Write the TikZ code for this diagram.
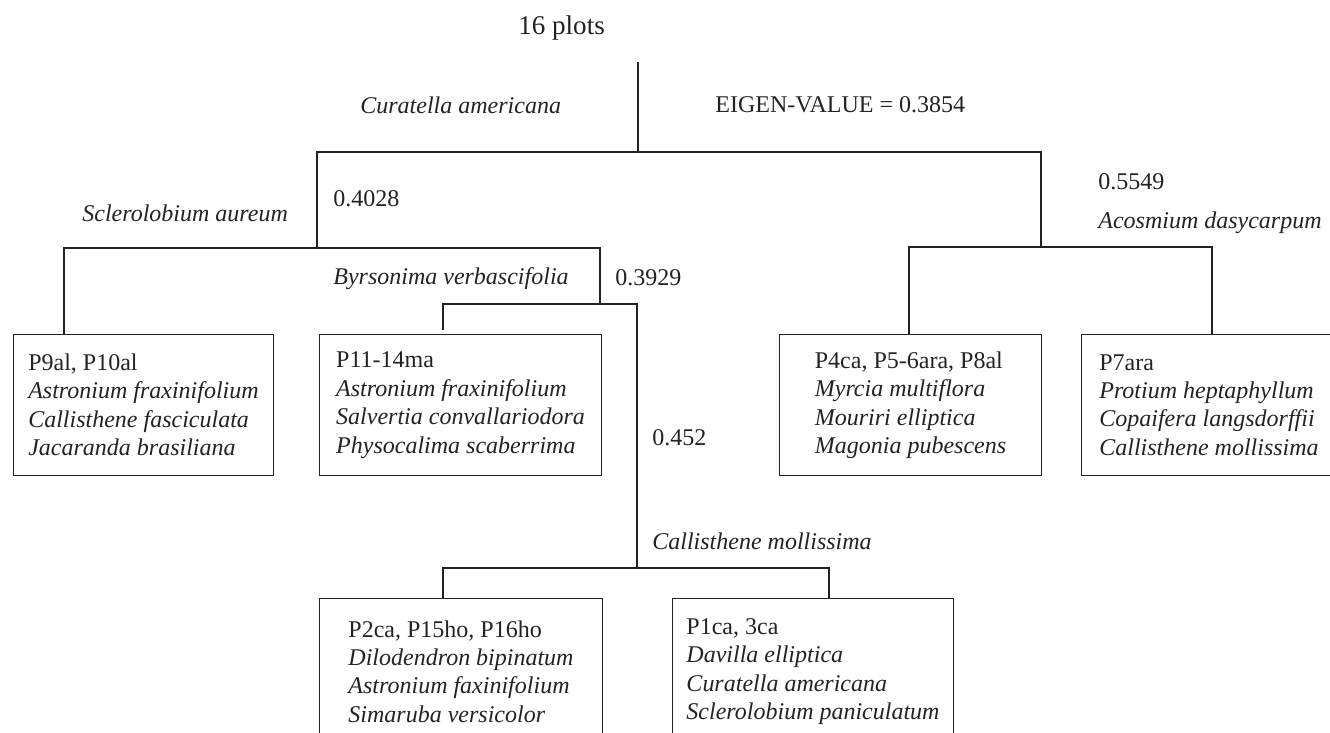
\documentclass[tikz,border=0pt]{standalone}
\usepackage{fontspec}
\setmainfont{Liberation Serif}
\definecolor{ink}{RGB}{35,35,35}
\newlength{\px}
\setlength{\px}{0.02cm}
\newcommand{\labfont}{\fontsize{13.66}{16.2}\selectfont}
\newcommand{\titlefont}{\fontsize{15.4}{18}\selectfont}
\tikzset{
  branch/.style={draw=ink, line width=0.6pt},
  plotbox/.style={draw=ink, line width=0.6pt, anchor=north west, align=left,
                  inner sep=0pt, font=\labfont, text=ink},
  lab/.style={anchor=base west, inner sep=0pt, font=\labfont, text=ink},
}

\begin{document}
\begin{tikzpicture}[x=0.02cm, y=-0.02cm]
  \useasboundingbox (0,0) rectangle (1330,733);

  % Title and first split
  \node[lab, font=\titlefont] (title) at (518,35) {16 plots};
  \node[lab] (curat) at (360,114) {\textit{Curatella americana}};
  \node[lab] (eigen) at (715,113) {EIGEN-VALUE = 0.3854};

  % Split values and indicator species
  \node[lab] (v4028) at (333,207) {0.4028};
  \node[lab] (scler) at (82,222) {\textit{Sclerolobium aureum}};
  \node[lab] (v5549) at (1098,190) {0.5549};
  \node[lab] (acos) at (1098,229) {\textit{Acosmium dasycarpum}};
  \node[lab] (byrs) at (333,285) {\textit{Byrsonima verbascifolia}};
  \node[lab] (v3929) at (615,286) {0.3929};
  \node[lab] (v452) at (652,446) {0.452};
  \node[lab] (callm) at (652,549) {\textit{Callisthene mollissima}};

  % Plot groups
  \node[plotbox, minimum width=260\px, minimum height=141\px] (b9) at (13,334)
    {P9al, P10al\\ \textit{Astronium fraxinifolium}\\
     \textit{Callisthene fasciculata}\\ \textit{Jacaranda brasiliana}};
  \node[plotbox, minimum width=282\px, minimum height=141\px] (b11) at (319,334)
    {P11-14ma\\ \textit{Astronium fraxinifolium}\\
     \textit{Salvertia convallariodora}\\ \textit{Physocalima scaberrima}};
  \node[plotbox, minimum width=262\px, minimum height=141\px] (b4) at (779,334)
    {P4ca, P5-6ara, P8al\\ \textit{Myrcia multiflora}\\
     \textit{Mouriri elliptica}\\ \textit{Magonia pubescens}};
  \node[plotbox, minimum width=255\px, minimum height=141\px] (b7) at (1081,334)
    {P7ara\\ \textit{Protium heptaphyllum}\\
     \textit{Copaifera langsdorffii}\\ \textit{Callisthene mollissima}};
  \node[plotbox, minimum width=283\px, minimum height=146\px] (b2) at (319,598)
    {P2ca, P15ho, P16ho\\ \textit{Dilodendron bipinatum}\\
     \textit{Astronium faxinifolium}\\ \textit{Simaruba versicolor}};
  \node[plotbox, minimum width=281\px, minimum height=146\px] (b1) at (672,598)
    {P1ca, 3ca\\ \textit{Davilla elliptica}\\
     \textit{Curatella americana}\\ \textit{Sclerolobium paniculatum}};

  % Junctions
  \coordinate (top) at (638,62);
  \coordinate (s1) at (638,152);
  \coordinate (s2) at (317,248);
  \coordinate (s2l) at (64,248);
  \coordinate (s2r) at (600,248);
  \coordinate (s3) at (600,304);
  \coordinate (s3l) at (443,304);
  \coordinate (s3r) at (637,304);
  \coordinate (s4) at (637,568);
  \coordinate (s4l) at (443,568);
  \coordinate (s4r) at (829,568);
  \coordinate (s5) at (1041,247);
  \coordinate (s5l) at (909,247);
  \coordinate (s5r) at (1212,247);

  % Tree
  \draw[branch] (top) -- (s1);
  \draw[branch] (s2) |- (s1) -| (s5);
  \draw[branch] (b9.north -| s2l) |- (s2r) -- (s3);
  \draw[branch, shorten <=4\px] (b11.north -| s3l) |- (s3r) -- (s4);
  \draw[branch] (b2.north -| s4l) |- (s4r) -- (b1.north -| s4r);
  \draw[branch] (b4.north -| s5l) |- (s5r) -- (b7.north -| s5r);
\end{tikzpicture}
\end{document}
